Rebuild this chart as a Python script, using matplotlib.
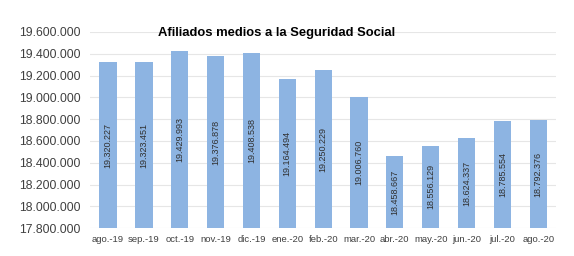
import numpy as np
import matplotlib
matplotlib.use('Agg')
import matplotlib.pyplot as plt
from matplotlib.ticker import FuncFormatter

# monthly average affiliates
months = ['ago.-19', 'sep.-19', 'oct.-19', 'nov.-19', 'dic.-19', 'ene.-20', 'feb.-20',
          'mar.-20', 'abr.-20', 'may.-20', 'jun.-20', 'jul.-20', 'ago.-20']
afiliados = [19320227, 19323451, 19429993, 19376878, 19408538, 19164494, 19250229,
             19006760, 18458667, 18556129, 18624337, 18785554, 18792376]
y_ticks = [17800000, 18000000, 18200000, 18400000, 18600000, 18800000,
           19000000, 19200000, 19400000, 19600000]

def fmt(v):
    return '{:,}'.format(int(v)).replace(',', '.')

plt.rcParams['font.family'] = ['Liberation Sans', 'DejaVu Sans']

fig = plt.figure(figsize=(5.74, 2.56), dpi=100)
ax = fig.add_axes([0.157, 0.109, 0.812, 0.766])

x = np.arange(len(months))
ymin = y_ticks[0]
ax.bar(x, np.array(afiliados) - ymin, bottom=ymin, width=0.48, color='#8DB4E2', zorder=2)

for xi, v in zip(x, afiliados):
    ax.text(xi, (v + ymin) / 2, fmt(v), rotation=90, ha='center', va='center',
            fontsize=6.5, color='#303030', zorder=3)

ax.set_ylim(y_ticks[0], y_ticks[-1])
ax.set_xlim(-0.5, len(months) - 0.5)
ax.set_yticks(y_ticks)
ax.yaxis.set_major_formatter(FuncFormatter(lambda v, p: fmt(v)))
ax.set_xticks(x)
ax.set_xticklabels(months)
ax.tick_params(axis='y', length=0, labelsize=8.8, labelcolor='#404040', pad=7)
ax.tick_params(axis='x', length=0, labelsize=6.8, labelcolor='#404040', pad=5)
ax.grid(axis='y', color='#E6E6E6', linewidth=0.8, zorder=0)
for s in ax.spines.values():
    s.set_visible(False)

ax.text(0.40, 0.995, 'Afiliados medios a la Seguridad Social', transform=ax.transAxes,
        ha='center', va='center', fontsize=9.4, fontweight='bold', color='black')

fig.savefig('out.png', dpi=100)
